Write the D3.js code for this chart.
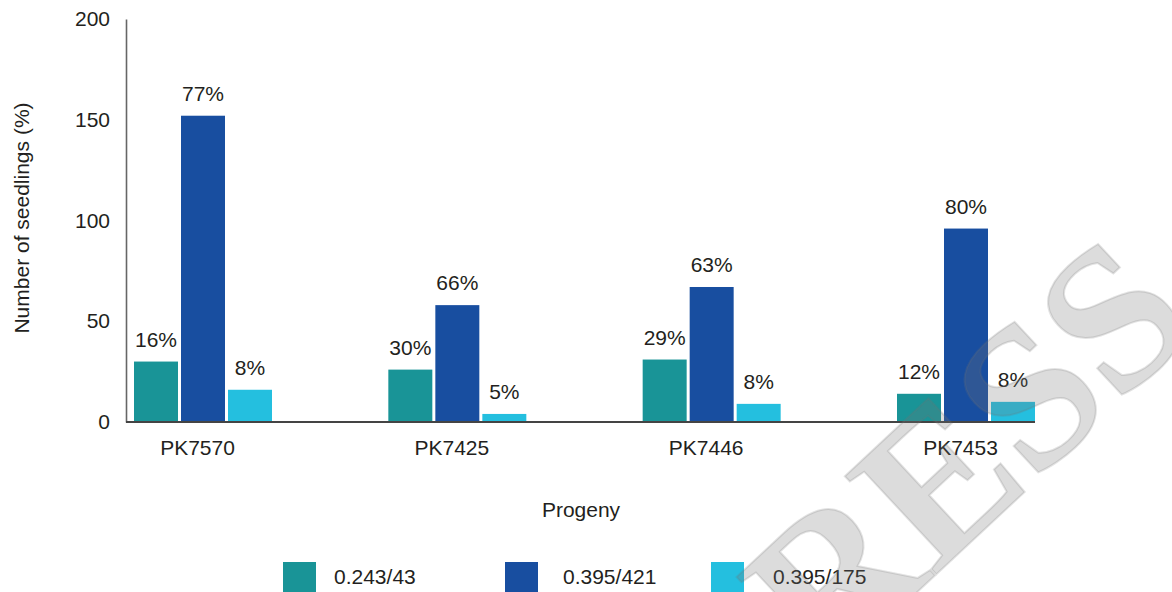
<!DOCTYPE html>
<html>
<head>
<meta charset="utf-8">
<script src="https://cdn.jsdelivr.net/npm/d3@7/dist/d3.min.js"></script>
<style>
  html, body { margin: 0; padding: 0; background: #fff; }
  svg { display: block; }
  text { font-family: "Liberation Sans", Arial, Helvetica, sans-serif; fill: #231f20; }
</style>
</head>
<body>
<svg id="chart" width="1172" height="592"></svg>
<script>
// Progeny groups and marker series
const categories = ["PK7570", "PK7425", "PK7446", "PK7453"];
const seriesNames = ["0.243/43", "0.395/421", "0.395/175"];
const series0243_43 = [30, 26, 31, 14];
const series0395_421 = [152, 58, 67, 96];
const series0395_175 = [16, 4, 9, 10];
// Share of seedlings printed above each bar
const pct0243_43 = ["16%", "30%", "29%", "12%"];
const pct0395_421 = ["77%", "66%", "63%", "80%"];
const pct0395_175 = ["8%", "5%", "8%", "8%"];
const yTicks = [0, 50, 100, 150, 200];

const colors = ["#199497", "#184ea0", "#24bfdf"];
const seriesValues = [series0243_43, series0395_421, series0395_175];
const seriesPct = [pct0243_43, pct0395_421, pct0395_175];

const svg = d3.select("#chart");
const axisX = 126;

const y = d3.scaleLinear().domain([0, 200]).range([422, 19]);
const x = d3.scalePoint().domain(categories).range([203, 966]);
const sub = d3.scaleBand().domain(seriesNames).range([-69, 69]).paddingInner(0.064);

// Bars
seriesNames.forEach((name, si) => {
  const g = svg.append("g");
  g.selectAll("rect")
    .data(categories.map((c, i) => ({ c, v: seriesValues[si][i] })))
    .join("rect")
    .attr("x", d => x(d.c) + sub(name))
    .attr("width", sub.bandwidth())
    .attr("y", d => y(d.v))
    .attr("height", d => y(0) - y(d.v))
    .attr("fill", colors[si]);

  g.selectAll("text")
    .data(categories.map((c, i) => ({ c, v: seriesValues[si][i], t: seriesPct[si][i] })))
    .join("text")
    .attr("x", d => x(d.c) + sub(name) + sub.bandwidth() / 2)
    .attr("y", d => y(d.v) - 15)
    .attr("text-anchor", "middle")
    .attr("font-size", 21)
    .text(d => d.t);
});

// Y axis
const yAxis = svg.append("g")
  .attr("transform", `translate(${axisX},0)`)
  .call(d3.axisLeft(y).tickValues(yTicks).tickSize(0).tickPadding(16));
yAxis.select(".domain").attr("stroke", "#666").attr("stroke-width", 1.6);
yAxis.selectAll("text")
  .attr("font-size", 21)
  .attr("fill", "#231f20")
  .style("font-family", "'Liberation Sans', Arial, sans-serif");

// X baseline
const lastCat = categories[categories.length - 1];
svg.append("line")
  .attr("x1", axisX)
  .attr("x2", x(lastCat) + sub.range()[1])
  .attr("y1", y(0))
  .attr("y2", y(0))
  .attr("stroke", "#444")
  .attr("stroke-width", 1.8);

// X category labels
const xAxis = svg.append("g")
  .attr("transform", `translate(-6,${y(0)})`)
  .call(d3.axisBottom(x).tickSize(0).tickPadding(18));
xAxis.select(".domain").remove();
xAxis.selectAll("text")
  .attr("font-size", 21)
  .attr("fill", "#231f20")
  .style("font-family", "'Liberation Sans', Arial, sans-serif");

// Axis titles
svg.append("text")
  .attr("transform", "translate(29,218) rotate(-90)")
  .attr("text-anchor", "middle")
  .attr("font-size", 21)
  .text("Number of seedlings (%)");

svg.append("text")
  .attr("x", 581)
  .attr("y", 517)
  .attr("text-anchor", "middle")
  .attr("font-size", 21)
  .text("Progeny");

// Legend
const legendX = [283, 505, 711];
const legendTextDx = [51, 58, 62];
seriesNames.forEach((name, i) => {
  svg.append("rect")
    .attr("x", legendX[i])
    .attr("y", 562)
    .attr("width", 33)
    .attr("height", 30)
    .attr("fill", colors[i]);
  svg.append("text")
    .attr("x", legendX[i] + legendTextDx[i])
    .attr("y", 584)
    .attr("font-size", 21)
    .text(name);
});

// Watermark
svg.append("text")
  .attr("transform", "translate(734,763) rotate(-43)")
  .attr("font-size", 205)
  .attr("font-weight", "bold")
  .style("font-family", "'Liberation Serif', 'Times New Roman', serif")
  .style("fill", "#737373")
  .style("fill-opacity", 0.25)
  .style("stroke", "#737373")
  .style("stroke-opacity", 0.2)
  .style("stroke-width", 2)
  .text("PRESS");
</script>
</body>
</html>
